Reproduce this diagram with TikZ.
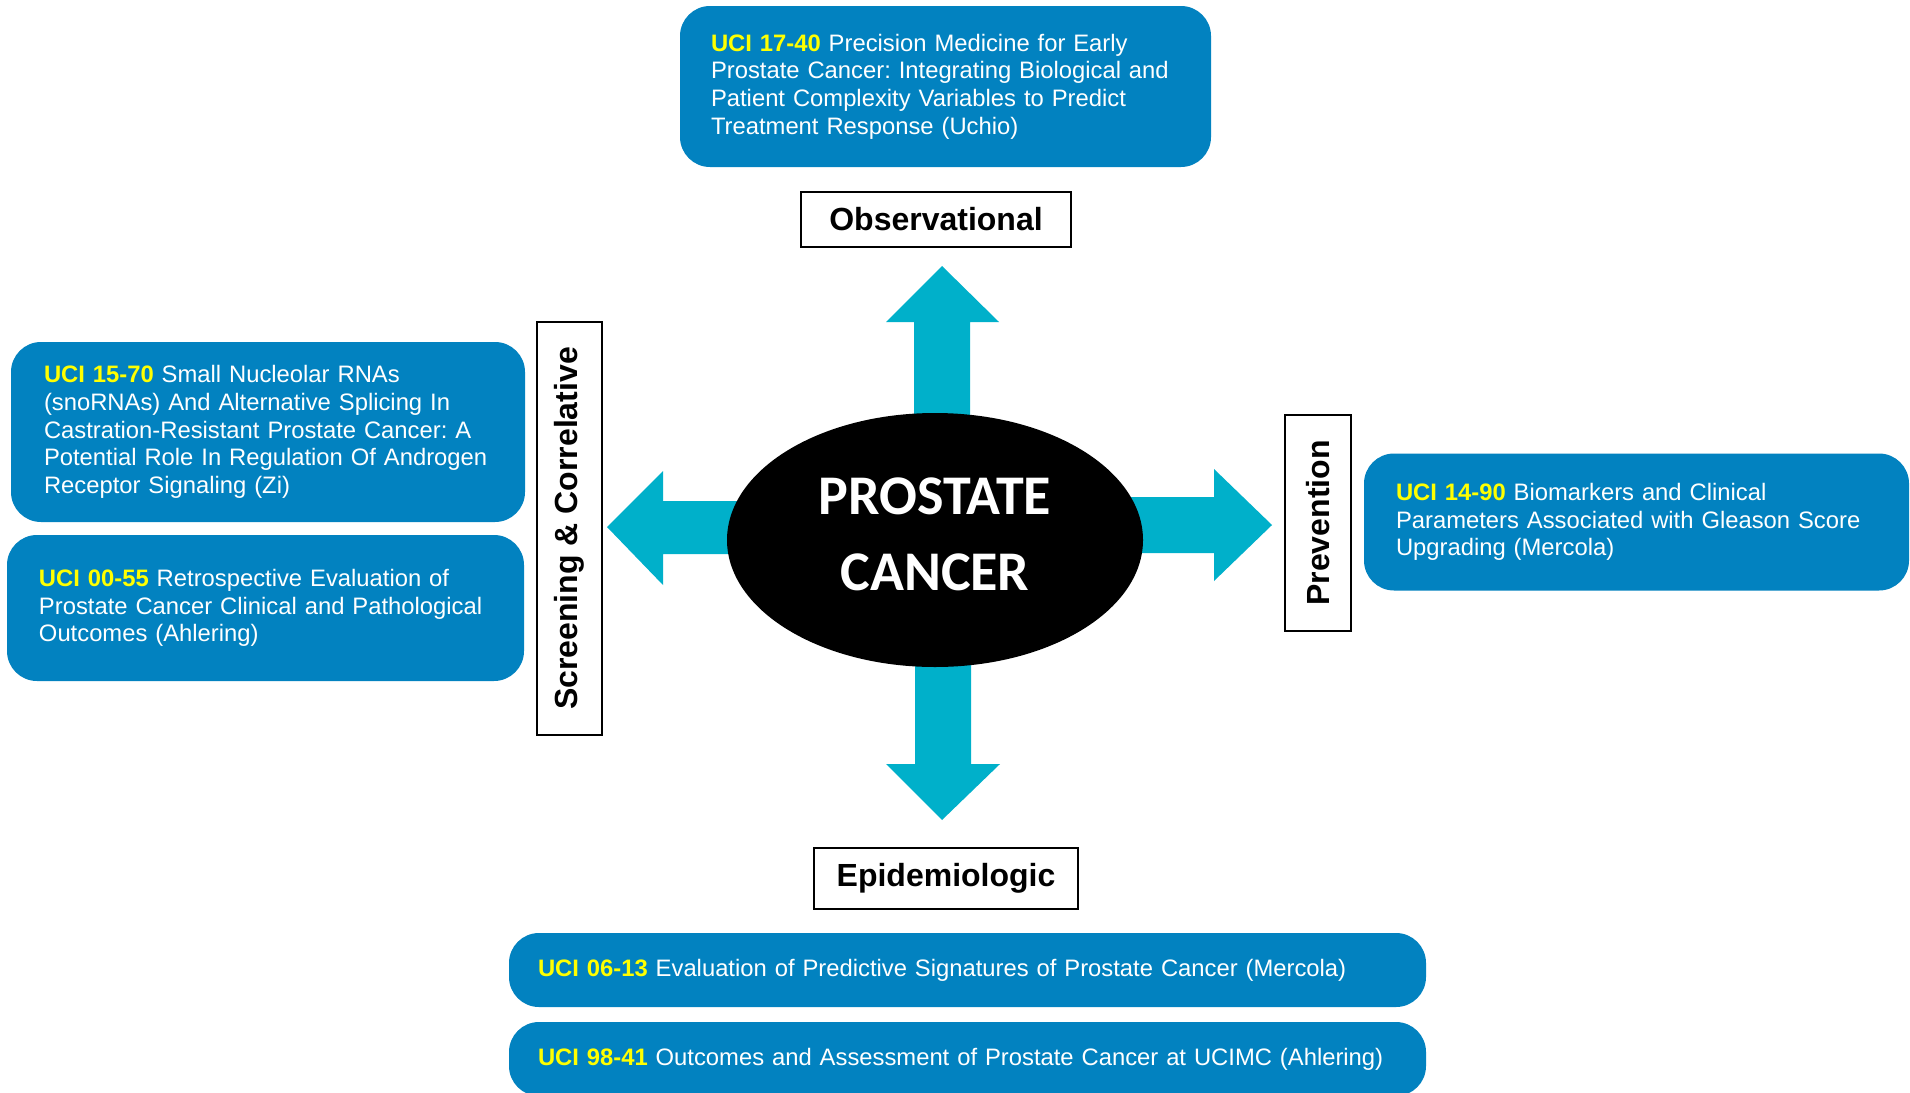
\documentclass[tikz,border=0pt]{standalone}
\usepackage{fontspec}
\setmainfont{Liberation Sans}
\newfontfamily\calibfont{Carlito}
\usetikzlibrary{shapes.geometric}
\definecolor{boxblue}{RGB}{2,130,192}
\definecolor{arrcyan}{RGB}{0,176,202}
\definecolor{uciyellow}{RGB}{255,255,0}
\newcommand{\uci}[1]{{\color{uciyellow}\bfseries UCI #1}}
\frenchspacing
\begin{document}
\begin{tikzpicture}[x=0.5pt,y=-0.5pt,
  bluebox/.style={fill=boxblue, rounded corners=15pt, inner xsep=0pt, inner ysep=0pt,
    text=white, align=left, font=\fontsize{11.9}{13.85}\selectfont},
  labelbox/.style={draw=black, line width=1pt, fill=white, inner sep=0pt,
    font=\fontsize{16}{18}\selectfont\bfseries},
  blockarrow/.style={fill=arrcyan, draw=none}]
\clip (0,0) rectangle (1910,1092);
\fill[white] (0,0) rectangle (1910,1092);

% block arrows
\fill[blockarrow] (914,540) -- (914,322) -- (886,322) -- (942,266) -- (999,322) -- (970,322) -- (970,540) -- cycle;
\fill[blockarrow] (915,540) -- (915,764) -- (886,764) -- (942,820) -- (1000,764) -- (971,764) -- (971,540) -- cycle;
\fill[blockarrow] (935,501) -- (663,501) -- (663,471) -- (607,527) -- (663,585) -- (663,554) -- (935,554) -- cycle;
\fill[blockarrow] (935,497) -- (1214,497) -- (1214,469) -- (1272,525) -- (1214,581) -- (1214,553) -- (935,553) -- cycle;

% center
\node[ellipse, fill=black, inner sep=0pt, minimum width=208pt, minimum height=127pt] (pc) at (935,540) {};
\node[text=white, align=center, inner sep=0pt, font=\calibfont\bfseries\fontsize{28}{38}\selectfont] (pctext) at (935,534) {PROSTATE\\CANCER};

% labels
\node[labelbox, minimum width=135pt, minimum height=27.5pt] (obs) at (936,219.5) {Observational};
\node[labelbox, minimum width=132pt, minimum height=30.5pt] (epi) at (946,878.5) {Epidemiologic};
\node[labelbox, rotate=90, minimum width=206.5pt, minimum height=32.5pt] (scr) at (569.5,528.5) {Screening \& Correlative};
\node[labelbox, rotate=90, minimum width=108pt, minimum height=33pt] (prev) at (1318,523) {Prevention};

% blue boxes
\node[bluebox, minimum width=265.5pt, minimum height=80.5pt, text width=234.5pt] (b1740) at (945.5,86.5)
 {\uci{17-40} Precision Medicine for Early\\Prostate Cancer: Integrating Biological and\\Patient Complexity Variables to Predict\\Treatment Response (Uchio)};
\node[bluebox, minimum width=257pt, minimum height=90pt, text width=224pt] (b1570) at (268,432)
 {\uci{15-70} Small Nucleolar RNAs\\(snoRNAs) And Alternative Splicing In\\Castration-Resistant Prostate Cancer: A\\Potential Role In Regulation Of Androgen\\Receptor Signaling (Zi)};
\node[bluebox, minimum width=258.5pt, minimum height=73pt, text width=226.5pt] (b0055) at (265.5,608)
 {\uci{00-55} Retrospective Evaluation of\\Prostate Cancer Clinical and Pathological\\Outcomes (Ahlering)};
\node[bluebox, minimum width=272.5pt, minimum height=68.5pt, text width=240.5pt] (b1490) at (1636.5,522)
 {\uci{14-90} Biomarkers and Clinical\\Parameters Associated with Gleason Score\\Upgrading (Mercola)};
\node[bluebox, minimum width=458.5pt, minimum height=37pt, text width=429.5pt] (b0613) at (967.5,970)
 {\uci{06-13} Evaluation of Predictive Signatures of Prostate Cancer (Mercola)};
\node[bluebox, minimum width=458.5pt, minimum height=37pt, text width=429.5pt] (b9841) at (967.5,1059)
 {\uci{98-41} Outcomes and Assessment of Prostate Cancer at UCIMC (Ahlering)};
\end{tikzpicture}
\end{document}
